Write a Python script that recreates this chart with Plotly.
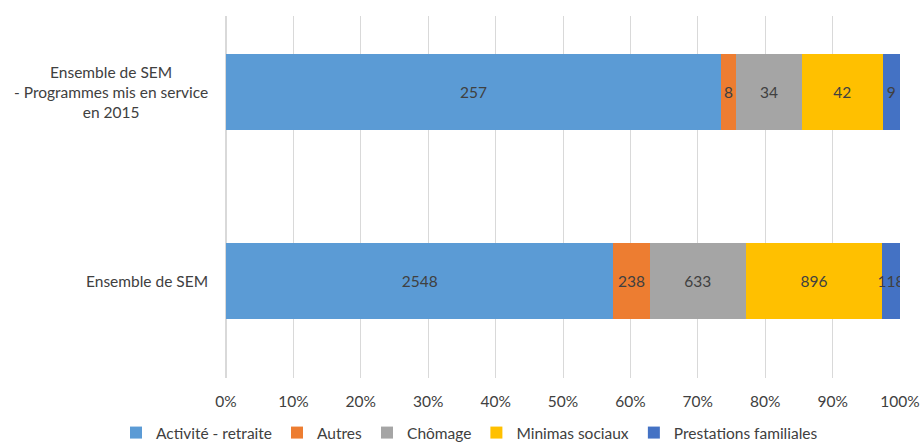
import plotly.graph_objects as go

categories = ["Ensemble de SEM", "Ensemble de SEM<br>- Programmes mis en service<br>en 2015"]
series_names = ["Activité - retraite", "Autres", "Chômage", "Minimas sociaux", "Prestations familiales"]
activite = [2548, 257]
autres = [238, 8]
chomage = [633, 34]
minimas = [896, 42]
prestations = [118, 9]
colors = ["#5B9BD5", "#ED7D31", "#A5A5A5", "#FFC000", "#4472C4"]
x_ticks = [0, 10, 20, 30, 40, 50, 60, 70, 80, 90, 100]
x_ticktext = [f"{v}%" for v in x_ticks]

FONT = "Lato"
FS = 15.5
TXT = "#404040"

fig = go.Figure()
for name, vals, col in zip(series_names, [activite, autres, chomage, minimas, prestations], colors):
    fig.add_trace(go.Bar(
        y=[0, 1], x=vals, name=name, orientation="h",
        marker=dict(color=col, line=dict(width=0)),
        text=vals, texttemplate="%{text}", textposition="inside",
        insidetextanchor="middle", constraintext="none", textangle=0,
        textfont=dict(family=FONT, size=FS, color=TXT),
        width=0.40,
    ))

for i, c in enumerate(categories):
    fig.add_annotation(x=0, xref="paper", y=i, yref="y", text=c, showarrow=False,
                       xanchor="right", align="center", xshift=-16,
                       font=dict(family=FONT, size=FS, color=TXT))

fig.update_layout(
    barmode="stack", barnorm="percent",
    width=921, height=443,
    margin=dict(l=226, r=21, t=16, b=65, autoexpand=False),
    plot_bgcolor="white", paper_bgcolor="white",
    font=dict(family=FONT, size=FS, color=TXT),
    showlegend=True,
    legend=dict(orientation="h", xref="paper", yref="paper",
                x=(116 - 226) / 674, xanchor="left", y=(378 - 416) / 362, yanchor="top",
                font=dict(family=FONT, size=FS, color=TXT),
                traceorder="normal", itemwidth=30),
    uniformtext=dict(mode=False),
)
fig.update_xaxes(range=[0, 100], tickmode="array", tickvals=x_ticks, ticktext=x_ticktext,
                 showgrid=True, gridcolor="#D9D9D9", gridwidth=1,
                 zeroline=True, zerolinecolor="#D9D9D9", showline=False,
                 ticks="", ticklabelstandoff=12, automargin=False,
                 tickfont=dict(family=FONT, size=FS, color=TXT))
fig.update_yaxes(range=[-0.513, 1.402], showticklabels=False, showgrid=False,
                 zeroline=False, showline=False, tickvals=[0, 1], automargin=False)

fig.write_html("out.html", config={"displayModeBar": False},
               post_script="document.body.style.margin='0';")
